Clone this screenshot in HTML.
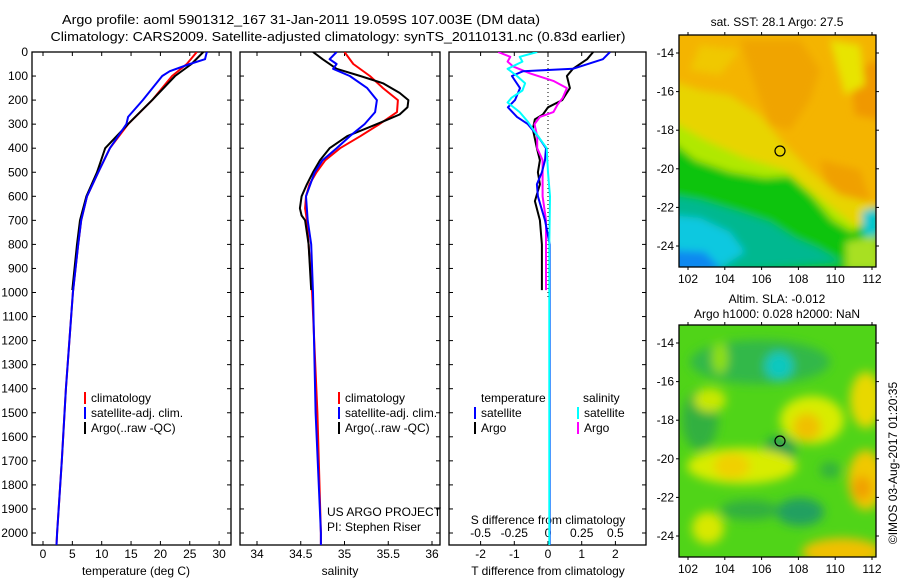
<!DOCTYPE html>
<html><head><meta charset="utf-8">
<style>
html,body{margin:0;padding:0;background:#fff;}
svg{display:block;font-family:"Liberation Sans",Arial,sans-serif;}
text{font-size:12px;fill:#000;}
</style></head>
<body>
<svg id="chart" width="900" height="580" viewBox="0 0 900 580" xmlns="http://www.w3.org/2000/svg">
<defs>
  <clipPath id="clipTop"><rect x="679" y="35" width="197" height="232"/></clipPath>
  <clipPath id="clipBot"><rect x="679" y="325" width="197" height="232"/></clipPath>
  <clipPath id="clipP1"><rect x="32" y="52" width="199" height="493"/></clipPath>
  <clipPath id="clipP2"><rect x="240" y="52" width="200" height="493"/></clipPath>
  <clipPath id="clipP3"><rect x="449" y="52" width="197" height="493"/></clipPath>
  <filter id="blur6" x="-20%" y="-20%" width="140%" height="140%"><feGaussianBlur stdDeviation="4"/></filter>
  <filter id="blur10" x="-30%" y="-30%" width="160%" height="160%"><feGaussianBlur stdDeviation="5"/></filter>
</defs>

<text x="301" y="24" text-anchor="middle" textLength="478" lengthAdjust="spacingAndGlyphs" style="font-size:13px">Argo profile: aoml 5901312_167 31-Jan-2011 19.059S 107.003E (DM data)</text>
<text x="338" y="41" text-anchor="middle" textLength="575" lengthAdjust="spacingAndGlyphs" style="font-size:13px">Climatology: CARS2009. Satellite-adjusted climatology: synTS_20110131.nc (0.83d earlier)</text>

<!-- SST map -->
<g clip-path="url(#clipTop)">
  <rect x="679" y="35" width="197" height="232" fill="#f4b400"/>
  <g filter="url(#blur6)">
    <polygon fill="#f0a400" points="740,40 800,40 820,70 810,100 790,130 770,125 760,100 750,70"/>
    <polygon fill="#f09800" points="850,70 880,60 880,120 855,115"/>
    <polygon fill="#f0a000" points="820,160 860,170 870,200 850,215 830,200"/>
    <polygon fill="#e8d400" points="670,80 700,90 730,95 760,115 785,145 812,172 840,195 880,205 880,280 670,280"/>
    <polygon fill="#e8e400" points="830,40 860,45 865,85 845,95"/>
    <polygon fill="#f0c800" points="700,45 740,50 720,75 690,70"/>
    <polygon fill="#b0e800" points="670,120 705,140 745,158 785,170 810,190 835,210 858,228 880,222 880,280 670,280"/>
    <polygon fill="#10c410" points="670,140 695,160 730,172 765,178 790,176 812,196 832,220 852,232 866,222 880,212 880,280 670,280"/>
    <polygon fill="#00b890" points="670,195 700,200 740,212 770,222 795,238 818,248 842,262 670,275"/>
    <polygon fill="#10c8e0" points="670,215 700,218 730,232 745,252 720,268 670,268"/>
    <polygon fill="#1088f0" points="670,250 705,252 722,270 670,275"/>
    <polygon fill="#a8e020" points="846,242 876,236 880,270 846,270"/>
    <polygon fill="#00c8d0" points="862,212 880,206 880,236 864,236"/>
  </g>
</g>
<rect x="679" y="35" width="197" height="232" fill="none" stroke="#000" stroke-width="1.3"/>
<circle cx="780" cy="151" r="5" fill="none" stroke="#000" stroke-width="1.2"/>
<text x="777" y="26" text-anchor="middle">sat. SST: 28.1 Argo: 27.5</text>

<!-- SLA map -->
<g clip-path="url(#clipBot)">
  <rect x="679" y="325" width="197" height="232" fill="#50d418"/>
  <g filter="url(#blur10)">
    <ellipse cx="760" cy="362" rx="70" ry="22" fill="#30b848"/>
    <ellipse cx="779" cy="366" rx="14" ry="14" fill="#10c8c0"/>
    <ellipse cx="720" cy="358" rx="8" ry="16" fill="#90e010"/>
    <ellipse cx="700" cy="420" rx="18" ry="30" fill="#30b040"/>
    <ellipse cx="780" cy="450" rx="16" ry="14" fill="#20a050"/>
    <ellipse cx="812" cy="420" rx="32" ry="24" fill="#d8ec00"/>
    <ellipse cx="807" cy="427" rx="14" ry="14" fill="#f0c000"/>
    <ellipse cx="742" cy="466" rx="55" ry="18" fill="#d8ec00"/>
    <ellipse cx="732" cy="466" rx="18" ry="13" fill="#f0d000"/>
    <ellipse cx="710" cy="400" rx="16" ry="12" fill="#c8e800"/>
    <ellipse cx="866" cy="400" rx="16" ry="28" fill="#e8d800"/>
    <ellipse cx="866" cy="480" rx="18" ry="30" fill="#f0c800"/>
    <ellipse cx="862" cy="488" rx="10" ry="12" fill="#f0a000"/>
    <ellipse cx="708" cy="528" rx="16" ry="16" fill="#d8e800"/>
    <ellipse cx="842" cy="552" rx="40" ry="14" fill="#f0c000"/>
    <ellipse cx="800" cy="512" rx="24" ry="14" fill="#20a060"/>
    <ellipse cx="750" cy="510" rx="30" ry="10" fill="#30b040"/>
    <ellipse cx="830" cy="470" rx="10" ry="8" fill="#30b040"/>
  </g>
</g>
<rect x="679" y="325" width="197" height="232" fill="none" stroke="#000" stroke-width="1.3"/>
<circle cx="780" cy="441" r="5" fill="none" stroke="#000" stroke-width="1.2"/>
<text x="777" y="303" text-anchor="middle">Altim. SLA: -0.012</text>
<text x="777" y="318" text-anchor="middle">Argo h1000: 0.028 h2000: NaN</text>
<text transform="translate(897,463) rotate(-90)" text-anchor="middle">©IMOS 03-Aug-2017 01:20:35</text>

<g id="dyn"></g>
</svg>
<script>
// ---- data ----
const depthTicks = [0,100,200,300,400,500,600,700,800,900,1000,1100,1200,1300,1400,1500,1600,1700,1800,1900,2000];
const tempTicks = [0,5,10,15,20,25,30];
const salTicks = [34,34.5,35,35.5,36];
const salTickLabels = ["34","34.5","35","35.5","36"];
const tdiffTicks = [-2,-1,0,1,2];
const sdiffTicks = [-0.5,-0.25,0,0.25,0.5];
const sdiffTickLabels = ["-0.5","-0.25","0","0.25","0.5"];
const lonTicks = [102,104,106,108,110,112];
const latTicks = [-14,-16,-18,-20,-22,-24];

const climDepth = [0,50,100,200,300,400,500,600,700,800,1000,1400,1700,2000,2050];
const climTemp  = [26.2,24.5,22.0,18.6,14.5,11.4,9.4,7.5,6.5,6.0,5.1,3.9,3.2,2.4,2.3];
const satDepth  = [0,30,50,80,100,200,270,300,400,500,600,700,800,1000,1400,1700,2000,2050];
const satTemp   = [27.9,27.6,25.0,21.6,20.3,17.0,14.5,14.2,11.4,9.4,7.5,6.5,6.0,5.1,3.9,3.2,2.4,2.3];
const argoDepth = [0,50,100,200,300,400,500,600,700,800,990];
const argoTemp  = [27.3,25.3,22.5,18.6,14.5,10.6,9.2,7.4,6.3,5.8,5.0];

const climSalDepth = [0,50,100,150,200,250,300,350,400,450,500,550,600,650,700,800,1000,1500,2000,2050];
const climSal = [35.0,35.1,35.29,35.44,35.61,35.6,35.4,35.18,34.95,34.78,34.68,34.6,34.56,34.55,34.57,34.59,34.63,34.69,34.73,34.73];
const satSalDepth = [0,30,50,70,100,150,200,250,300,350,400,450,500,600,700,800,1000,1500,2000,2050];
const satSal = [34.91,34.83,34.91,34.87,35.06,35.26,35.37,35.35,35.23,35.06,34.91,34.75,34.66,34.56,34.58,34.62,34.64,34.67,34.73,34.73];
const argoSalDepth = [0,30,70,100,130,170,200,230,260,300,350,400,450,500,550,600,650,680,700,800,990];
const argoSal = [34.64,34.75,34.91,35.18,35.44,35.63,35.73,35.72,35.63,35.37,35.03,34.83,34.72,34.64,34.57,34.51,34.49,34.51,34.55,34.59,34.62];

const tSatDiffDepth = [0,30,70,80,100,150,200,230,270,300,350,400,450,500,550,600,700,800,2050];
const tSatDiff = [1.84,1.63,0.74,-0.74,-1.07,-0.83,-0.98,-1.19,-0.92,-0.6,-0.3,-0.06,-0.09,-0.18,-0.33,-0.3,-0.09,0.05,0.05];
const tArgoDiffDepth = [0,30,70,100,150,200,230,260,280,320,400,450,500,550,620,700,800,990];
const tArgoDiff = [1.34,1.16,0.74,0.56,0.65,0.42,0.0,-0.15,-0.39,-0.45,-0.33,-0.24,-0.3,-0.24,-0.39,-0.24,-0.18,-0.18];
const sSatDiffDepth = [0,20,40,70,100,130,160,190,210,250,290,330,400,500,600,800,2050];
const sSatDiff = [-0.08,-0.21,-0.19,-0.30,-0.23,-0.17,-0.19,-0.27,-0.30,-0.21,-0.15,-0.10,-0.01,0.0,0.015,0.01,0.01];
const sArgoDiffDepth = [0,20,40,60,90,120,150,190,220,250,270,300,350,400,450,500,600,700,990];
const sArgoDiff = [-0.37,-0.28,-0.30,-0.26,-0.13,0.04,0.14,0.11,0.07,0.04,-0.06,-0.10,-0.08,-0.08,-0.04,-0.04,-0.04,-0.015,-0.015];

// ---- axes ----
const yD = d => 52 + 0.2405 * d;
const xT = t => 43 + 5.87 * t;
const xS = s => 257 + 87.5 * (s - 34);
const xTd = v => 548 + 33.7 * v;
const xSd = v => 548 + 134.8 * v;
const xLonT = l => 688 + 18.4 * (l - 102);
const yLatT = l => 53 + 19.3 * (-14 - l);
const yLatB = l => 343 + 19.3 * (-14 - l);

const NS = "http://www.w3.org/2000/svg";
const root = document.getElementById('dyn');
function mk(tag, attrs, parent) {
  const e = document.createElementNS(NS, tag);
  for (const k in attrs) e.setAttribute(k, attrs[k]);
  (parent || root).appendChild(e);
  return e;
}
function txt(x, y, s, anchor, parent) {
  const t = mk('text', {x: x, y: y, 'text-anchor': anchor || 'middle'}, parent);
  t.textContent = s;
  return t;
}

const panels = [
  {x0:32, x1:231, name:'temperature-panel', clip:'clipP1'},
  {x0:240, x1:440, name:'salinity-panel', clip:'clipP2'},
  {x0:449, x1:646, name:'difference-panel', clip:'clipP3'}
];
panels.forEach(p => {
  const f = mk('rect', {x:p.x0, y:52, width:p.x1-p.x0, height:493, fill:'none', stroke:'#000', 'stroke-width':1.3});
  
  
  depthTicks.forEach(d => {
    const t1 = mk('line', {x1:p.x0, x2:p.x0+4, y1:yD(d), y2:yD(d), stroke:'#000'});
    
    
    const t2 = mk('line', {x1:p.x1, x2:p.x1-4, y1:yD(d), y2:yD(d), stroke:'#000'});
    
    
  });
});
depthTicks.forEach(d => {
  const t = txt(28, yD(d) + 4, String(d), 'end');
  
  
});

function xTicks(vals, labels, fx, y0, y1, labelY, nm) {
  vals.forEach((v, i) => {
    const a = mk('line', {x1:fx(v), x2:fx(v), y1:y0, y2:y0+4, stroke:'#000'});
    
    
    const b = mk('line', {x1:fx(v), x2:fx(v), y1:y1, y2:y1-4, stroke:'#000'});
    
    
    if (labelY) {
      const t = txt(fx(v), labelY, labels ? labels[i] : String(v));
      
      
    }
  });
}
xTicks(tempTicks, null, xT, 52, 545, 558, 'temperature');
xTicks(salTicks, salTickLabels, xS, 52, 545, 558, 'salinity');
xTicks(tdiffTicks, null, xTd, 52, 545, 558, 'tdiff');
sdiffTicks.forEach((v, i) => {
  const t = txt(xSd(v), 537, sdiffTickLabels[i]);
  
  
});
const zl = mk('line', {x1:xTd(0), x2:xTd(0), y1:52, y2:300, stroke:'#000', 'stroke-dasharray':'1,3'});



[['temperature (deg C)',136,'temperature-axis-title'],['salinity',340,'salinity-axis-title'],['T difference from climatology',548,'tdiff-axis-title']].forEach(a => {
  const t = txt(a[1], 575, a[0]);
  
  
});
const sdt = txt(548, 524, 'S difference from climatology');



function line(ds, vs, fx, color, nm, clip) {
  const pts = ds.map((d, i) => fx(vs[i]).toFixed(1) + ',' + yD(d).toFixed(1)).join(' ');
  const l = mk('polyline', {points:pts, fill:'none', stroke:color, 'stroke-width':2, 'clip-path':'url(#' + clip + ')', 'stroke-linejoin':'round'});
  
  
}
line(climDepth, climTemp, xT, '#ff0000', 'climatology-temperature-line', 'clipP1');
line(argoDepth, argoTemp, xT, '#000000', 'argo-temperature-line', 'clipP1');
line(satDepth, satTemp, xT, '#0000ff', 'satellite-temperature-line', 'clipP1');
line(climSalDepth, climSal, xS, '#ff0000', 'climatology-salinity-line', 'clipP2');
line(argoSalDepth, argoSal, xS, '#000000', 'argo-salinity-line', 'clipP2');
line(satSalDepth, satSal, xS, '#0000ff', 'satellite-salinity-line', 'clipP2');
line(tArgoDiffDepth, tArgoDiff, xTd, '#000000', 'argo-tdiff-line', 'clipP3');
line(sArgoDiffDepth, sArgoDiff, xSd, '#ff00ff', 'argo-sdiff-line', 'clipP3');
line(tSatDiffDepth, tSatDiff, xTd, '#0000ff', 'satellite-tdiff-line', 'clipP3');
line(sSatDiffDepth, sSatDiff, xSd, '#00ffff', 'satellite-sdiff-line', 'clipP3');

function legend(x, y, color, label, nm) {
  const r = mk('rect', {x:x, y:y-10, width:2, height:12, fill:color});
  
  
  const t = txt(x + 7, y, label, 'start');
  
  
}
legend(84, 402, '#ff0000', 'climatology', 'legend-temp-climatology');
legend(84, 417, '#0000ff', 'satellite-adj. clim.', 'legend-temp-satellite');
legend(84, 432, '#000000', 'Argo(..raw -QC)', 'legend-temp-argo');
legend(338, 402, '#ff0000', 'climatology', 'legend-sal-climatology');
legend(338, 417, '#0000ff', 'satellite-adj. clim.', 'legend-sal-satellite');
legend(338, 432, '#000000', 'Argo(..raw -QC)', 'legend-sal-argo');
const lt = txt(481, 402, 'temperature', 'start');


const ls = txt(583, 402, 'salinity', 'start');


legend(474, 417, '#0000ff', 'satellite', 'legend-tdiff-satellite');
legend(474, 432, '#000000', 'Argo', 'legend-tdiff-argo');
legend(577, 417, '#00ffff', 'satellite', 'legend-sdiff-satellite');
legend(577, 432, '#ff00ff', 'Argo', 'legend-sdiff-argo');

const us = txt(327, 516, 'US ARGO PROJECT', 'start');


const pi = txt(327, 531, 'PI: Stephen Riser', 'start');



function mapTicks(y0, y1, fy, labY, nm) {
  lonTicks.forEach(l => {
    const a = mk('line', {x1:xLonT(l), x2:xLonT(l), y1:y0, y2:y0-3, stroke:'#000'});
    
    
    const b = mk('line', {x1:xLonT(l), x2:xLonT(l), y1:y1, y2:y1+3, stroke:'#000'});
    
    
    const t = txt(xLonT(l), labY, String(l));
    
    
  });
  latTicks.forEach(l => {
    const a = mk('line', {x1:679, x2:676, y1:fy(l), y2:fy(l), stroke:'#000'});
    
    
    const b = mk('line', {x1:876, x2:879, y1:fy(l), y2:fy(l), stroke:'#000'});
    
    
    const t = txt(674, fy(l) + 4, String(l), 'end');
    
    
  });
}
mapTicks(35, 267, yLatT, 283, 'sst-map');
mapTicks(325, 557, yLatB, 573, 'sla-map');
</script>
</body></html>
